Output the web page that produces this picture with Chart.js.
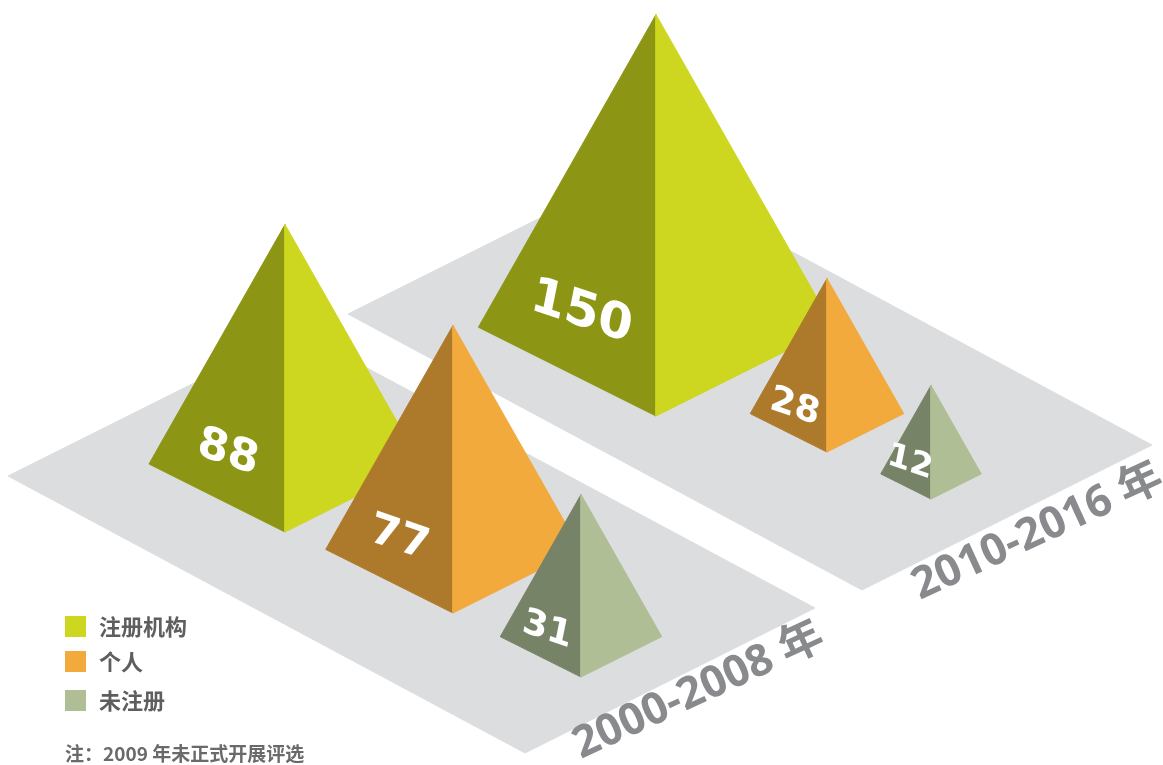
<!DOCTYPE html>
<html>
<head>
<meta charset="utf-8">
<script src="https://cdn.jsdelivr.net/npm/chart.js@4.4.1/dist/chart.umd.min.js"></script>
<style>
    html, body { margin: 0; padding: 0; background: #ffffff; }
    #wrap { width: 1163px; height: 765px; }
</style>
</head>
<body>
<div id="wrap"><canvas id="chart" width="1163" height="765"></canvas></div>
<script>
// ---- data ----
const periods = ['2000-2008 年', '2010-2016 年'];
const categories = ['注册机构', '个人', '未注册'];
const registered = [88, 150];
const individual = [77, 28];
const unregistered = [31, 12];
const note = '注：2009 年未正式开展评选';

// ---- styles ----
const lightColors = ['#CDD71F', '#F2AA3D', '#AFBE94'];
const darkColors = ['#8C9614', '#AD792A', '#778366'];
const platformColor = '#DCDDDF';
const labelColor = '#898A8D';
const textColor = '#5E5E5E';

// ---- layout (chart units, same size as the canvas) ----
const SIZE = 14.5;      // half base width per sqrt(value)
const HEIGHT = 1.76;    // pyramid height / half base width
// platform: left corner, bottom corner, right corner
const platforms = [
    [{x: 8, y: 476}, {x: 525, y: 753}, {x: 815, y: 608}],
    [{x: 348, y: 314}, {x: 862, y: 590}, {x: 1152, y: 445}]
];
// front corner of every pyramid, per period, per category
const anchors = [
    [{x: 285, y: 532}, {x: 453, y: 613}, {x: 581, y: 677}],
    [{x: 656, y: 416}, {x: 827, y: 452}, {x: 931, y: 499}]
];
const labelOffsets = [{x: 56, y: 6}, {x: 58, y: 10}];

const series = [registered, individual, unregistered];

function pyramid(front, value) {
    const w = SIZE * Math.sqrt(value);
    return {
        w: w,
        front: front,
        left: {x: front.x - w, y: front.y - w / 2},
        right: {x: front.x + w, y: front.y - w / 2},
        apex: {x: front.x, y: front.y - w / 2 - HEIGHT * w}
    };
}

function face(points, color) {
    return {
        data: points.concat([points[0]]),
        showLine: true,
        fill: 'shape',
        backgroundColor: color,
        borderColor: color,
        borderWidth: 1,
        pointRadius: 0,
        tension: 0
    };
}

// back to front
const datasets = [];
platforms.slice().reverse().forEach(p => {
    const top = {x: p[0].x + p[2].x - p[1].x, y: p[0].y + p[2].y - p[1].y};
    datasets.push(face([p[0], p[1], p[2], top], platformColor));
});
const pyramids = [];
[1, 0].forEach(g => {
    series.forEach((values, c) => {
        const pm = pyramid(anchors[g][c], values[g]);
        pyramids.push({pm: pm, value: values[g]});
        datasets.push(face([pm.apex, pm.left, pm.front], darkColors[c]));
        datasets.push(face([pm.apex, pm.front, pm.right], lightColors[c]));
    });
});
datasets.forEach((d, i) => { d.order = -i; });

// ---- texts ----
const textPlugin = {
    id: 'texts',
    afterDatasetsDraw(chart) {
        const ctx = chart.ctx;
        const sx = chart.scales.x, sy = chart.scales.y;
        const px = p => ({x: sx.getPixelForValue(p.x), y: sy.getPixelForValue(p.y)});

        // values on left faces
        pyramids.forEach(({pm, value}) => {
            const lift = pm.w < 70 ? 0.72 : 0.58;
            const pos = px({x: pm.front.x - 0.42 * pm.w, y: pm.front.y - lift * pm.w});
            const fs = Math.round(25 + 0.13 * pm.w);
            ctx.save();
            ctx.translate(pos.x, pos.y);
            ctx.transform(1, 0.34, -0.2, 1, 0, 0);
            ctx.font = 'bold ' + fs + 'px "DejaVu Sans", sans-serif';
            ctx.fillStyle = '#ffffff';
            ctx.textAlign = 'center';
            ctx.textBaseline = 'middle';
            ctx.fillText(String(value), 0, 0);
            ctx.restore();
        });

        // period labels along the platform edge
        platforms.forEach((p, i) => {
            const start = px({x: p[1].x + labelOffsets[i].x, y: p[1].y + labelOffsets[i].y});
            const ang = 0.93 * Math.atan2(p[2].y - p[1].y, p[2].x - p[1].x);
            ctx.save();
            ctx.translate(start.x, start.y);
            ctx.rotate(ang);
            ctx.font = 'bold 44px "Open Sans", "Noto Sans CJK SC", sans-serif';
            ctx.fillStyle = labelColor;
            ctx.textAlign = 'left';
            ctx.textBaseline = 'alphabetic';
            ctx.fillText(periods[i], 0, 0);
            ctx.restore();
        });

        // legend
        categories.forEach((name, i) => {
            const y = [616, 651, 690][i];
            ctx.fillStyle = lightColors[i];
            ctx.fillRect(65, y, 21, 21);
            ctx.font = 'bold 22px "Noto Sans CJK SC", sans-serif';
            ctx.fillStyle = textColor;
            ctx.textAlign = 'left';
            ctx.textBaseline = 'middle';
            ctx.fillText(name, 99, y + 11);
        });

        // footnote
        ctx.font = 'bold 19px "Noto Sans CJK SC", sans-serif';
        ctx.fillStyle = '#6A6A6A';
        ctx.textBaseline = 'middle';
        ctx.fillText(note, 65, 754);
    }
};

new Chart(document.getElementById('chart'), {
    type: 'scatter',
    data: { datasets: datasets },
    options: {
        responsive: false,
        animation: false,
        events: [],
        layout: { padding: 0 },
        scales: {
            x: { display: false, min: 0, max: 1163 },
            y: { display: false, min: 0, max: 765, reverse: true }
        },
        plugins: {
            legend: { display: false },
            tooltip: { enabled: false }
        }
    },
    plugins: [textPlugin]
});
</script>
</body>
</html>
